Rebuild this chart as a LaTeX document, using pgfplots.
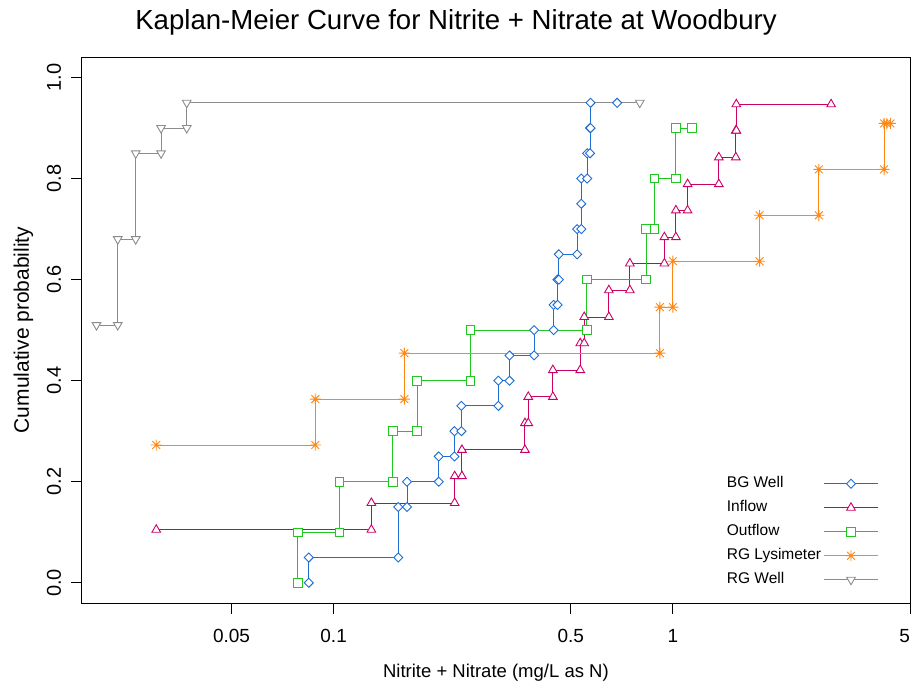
\documentclass[border=0pt]{standalone}
\usepackage{pgfplots}
\pgfplotsset{compat=1.18}
\usepackage{fontspec}
\setmainfont{Liberation Sans}

\definecolor{bgwell}{RGB}{30,110,210}
\definecolor{inflow}{RGB}{204,0,102}
\definecolor{outflow}{RGB}{30,200,30}
\definecolor{lysim}{RGB}{255,135,20}
\definecolor{rgwell}{RGB}{140,140,140}

% R style pch 8: plus and cross
\pgfdeclareplotmark{rstar}{%
  \pgfpathmoveto{\pgfqpoint{-\pgfplotmarksize}{0pt}}\pgfpathlineto{\pgfqpoint{\pgfplotmarksize}{0pt}}%
  \pgfpathmoveto{\pgfqpoint{0pt}{-\pgfplotmarksize}}\pgfpathlineto{\pgfqpoint{0pt}{\pgfplotmarksize}}%
  \pgfpathmoveto{\pgfqpoint{-.707\pgfplotmarksize}{-.707\pgfplotmarksize}}\pgfpathlineto{\pgfqpoint{.707\pgfplotmarksize}{.707\pgfplotmarksize}}%
  \pgfpathmoveto{\pgfqpoint{-.707\pgfplotmarksize}{.707\pgfplotmarksize}}\pgfpathlineto{\pgfqpoint{.707\pgfplotmarksize}{-.707\pgfplotmarksize}}%
  \pgfusepathqstroke}

\begin{document}
\begin{tikzpicture}
\path[use as bounding box] (-81.8pt,-80pt) rectangle (830.2pt,603pt);
\begin{axis}[
at={(0pt,0pt)}, anchor=south west,
scale only axis, width=828.2pt, height=545.7pt,
xmode=log, xmin=0.0181, xmax=5,
ymin=-0.04, ymax=1.04,
xtick={0.05,0.1,0.5,1,5}, xticklabels={0.05,0.1,0.5,1,\makebox[0pt][r]{5}},
ytick={0,0.2,0.4,0.6,0.8,1}, yticklabels={0.0,0.2,0.4,0.6,0.8,1.0},
xminorticks=false,
tick align=outside, major tick length=10.5pt,
xtick pos=left, ytick pos=left,
tick style={black, line width=0.8pt},
axis line style={line width=0.9pt},
xticklabel shift=16pt, yticklabel shift=10pt,
xticklabel style={font=\fontsize{19}{22}\selectfont, inner sep=0pt, anchor=north},
yticklabel style={font=\fontsize{20}{24}\selectfont, rotate=90, anchor=south, inner sep=0pt},
legend cell align=left, legend plot pos=right,
legend image code/.code={\draw[mark repeat=2,mark phase=2] plot coordinates {(0pt,0pt) (26.85pt,0pt) (53.7pt,0pt)};},
legend style={at={(0.7787,0.2322)}, anchor=north west, draw=none, fill=none,
  inner sep=0pt, row sep=9.5pt, column sep=2.6pt,
  font=\fontsize{15.5}{18}\selectfont,
  nodes={inner sep=0pt, text height=11pt, text depth=3.5pt}},
every axis plot/.append style={line width=0.9pt},
]
% BG Well
\addplot[color=bgwell, mark=square*, mark size=3.2pt, mark options={rotate=45, fill=white, solid}]
coordinates {
(0.0845,0.00)(0.0845,0.05)(0.155,0.05)(0.155,0.15)(0.1645,0.15)(0.1645,0.20)
(0.204,0.20)(0.204,0.25)(0.227,0.25)(0.227,0.30)(0.238,0.30)(0.238,0.35)
(0.306,0.35)(0.306,0.40)(0.330,0.40)(0.330,0.45)(0.390,0.45)(0.390,0.50)
(0.445,0.50)(0.445,0.55)(0.457,0.55)(0.457,0.60)(0.461,0.60)(0.461,0.65)
(0.522,0.65)(0.522,0.70)(0.537,0.70)(0.537,0.75)(0.537,0.80)(0.559,0.80)
(0.559,0.85)(0.570,0.85)(0.570,0.90)(0.572,0.90)(0.572,0.95)(0.685,0.95)};
\addlegendentry{BG Well}
% Inflow
\addplot[color=inflow, mark=triangle*, mark size=5pt, mark options={fill=white, solid}]
coordinates {
(0.0300,0.105)(0.1292,0.105)(0.1292,0.158)(0.2274,0.158)(0.2274,0.211)
(0.2389,0.211)(0.2389,0.263)(0.3664,0.263)(0.3664,0.316)(0.3748,0.316)
(0.3748,0.368)(0.4429,0.368)(0.4429,0.421)(0.5332,0.421)(0.5332,0.474)
(0.5479,0.474)(0.5479,0.526)(0.6477,0.526)(0.6477,0.579)(0.7468,0.579)
(0.7468,0.632)(0.9440,0.632)(0.9440,0.684)(1.0206,0.684)(1.0206,0.737)
(1.105,0.737)(1.105,0.789)(1.366,0.789)(1.366,0.842)(1.533,0.842)
(1.533,0.895)(1.538,0.895)(1.538,0.947)(2.927,0.947)};
\addlegendentry{Inflow}
% Outflow
\addplot[color=outflow, mark=square*, mark size=4.3pt, mark options={fill=white, solid}]
coordinates {
(0.0784,0.0)(0.0784,0.1)(0.1039,0.1)(0.1039,0.2)(0.1493,0.2)(0.1493,0.3)
(0.1761,0.3)(0.1761,0.4)(0.2534,0.4)(0.2534,0.5)(0.5580,0.5)(0.5580,0.6)
(0.8343,0.6)(0.8343,0.7)(0.8820,0.7)(0.8820,0.8)(1.0206,0.8)(1.0206,0.9)
(1.136,0.9)};
\addlegendentry{Outflow}
% RG Lysimeter
\addplot[color=lysim, mark=rstar, mark size=5.5pt, mark options={solid}]
coordinates {
(0.0300,0.2727)(0.0883,0.2727)(0.0883,0.3636)(0.1616,0.3636)(0.1616,0.4545)
(0.9157,0.4545)(0.9157,0.5455)(1.0,0.5455)(1.0,0.6364)(1.801,0.6364)
(1.801,0.7273)(2.693,0.7273)(2.693,0.8182)(4.194,0.8182)(4.194,0.9091)
(4.27,0.9091)(4.379,0.9091)};
\addlegendentry{RG Lysimeter}
% RG Well
\addplot[color=rgwell, mark=triangle*, mark size=5pt, mark options={rotate=180, fill=white, solid}]
coordinates {
(0.0200,0.51)(0.0231,0.51)(0.0231,0.68)(0.0261,0.68)(0.0261,0.85)
(0.0310,0.85)(0.0310,0.90)(0.0369,0.90)(0.0369,0.95)(0.799,0.95)};
\addlegendentry{RG Well}
\end{axis}
\node[anchor=base, font=\fontsize{27.6}{32}\selectfont] at (374.2pt,573.5pt) {Kaplan-Meier Curve for Nitrite + Nitrate at Woodbury};
\node[anchor=base, font=\fontsize{18.5}{22}\selectfont] at (414.1pt,-74.5pt) {Nitrite + Nitrate (mg/L as N)};
\node[rotate=90, anchor=base, font=\fontsize{21}{25}\selectfont] at (-52.8pt,273pt) {Cumulative probability};
\end{tikzpicture}
\end{document}
